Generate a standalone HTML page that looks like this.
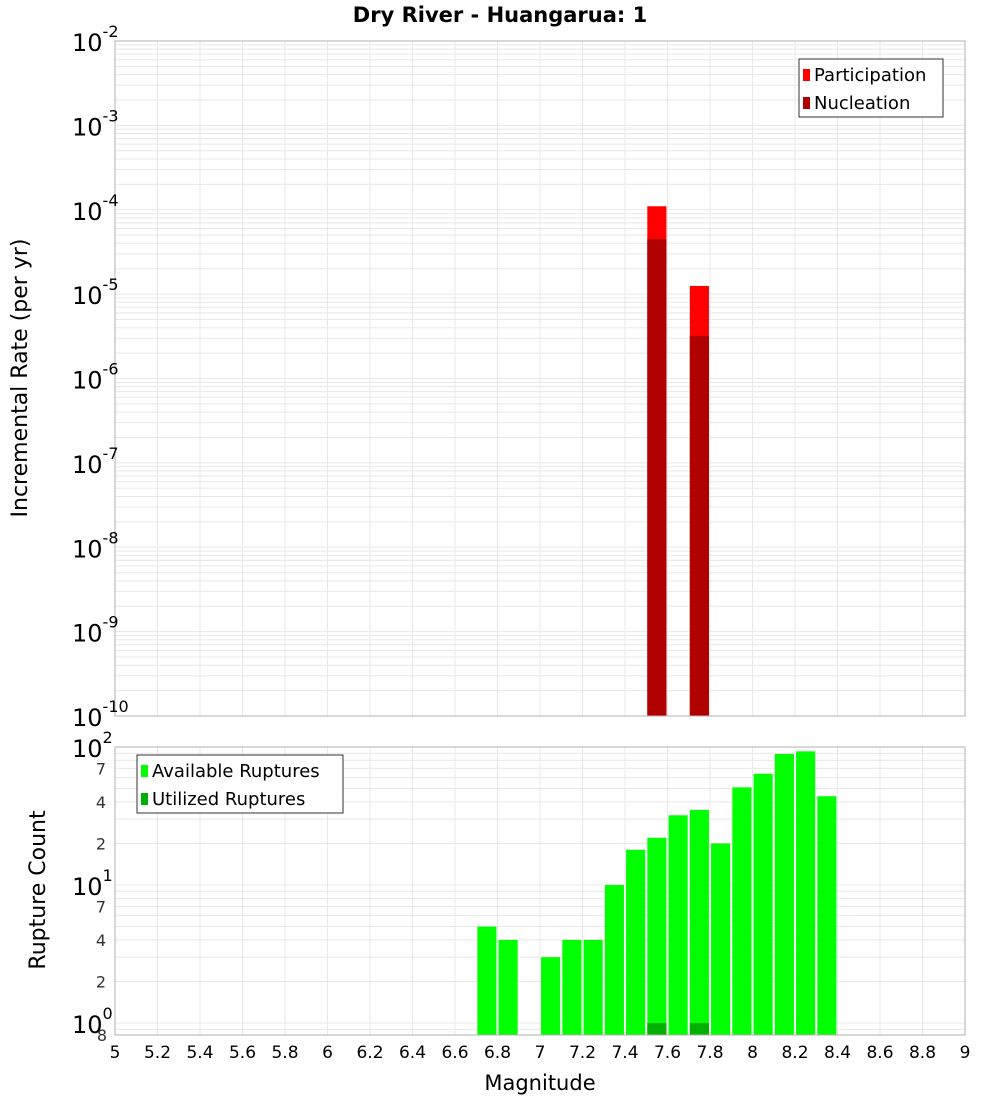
<!DOCTYPE html>
<html><head><meta charset="utf-8"><style>body{margin:0;background:#fff}svg{display:block;font-family:"DejaVu Sans","Liberation Sans",sans-serif}</style></head>
<body>
<svg id="c" width="1000" height="1100" xmlns="http://www.w3.org/2000/svg"></svg>
<script>
const topMags=[7.55,7.75];
const participation=[1.1e-4,1.25e-5];
const nucleation=[4.5e-5,3.2e-6];
const botMags=[6.75,6.85,7.05,7.15,7.25,7.35,7.45,7.55,7.65,7.75,7.85,7.95,8.05,8.15,8.25,8.35];
const available=[5,4,3,4,4,10,18,22,32,35,20,51,64,89,93,44];
const utilMags=[7.55,7.75];
const utilized=[1,1];
const xTicks=[5,5.2,5.4,5.6,5.8,6,6.2,6.4,6.6,6.8,7,7.2,7.4,7.6,7.8,8,8.2,8.4,8.6,8.8,9];
const topExps=[-2,-3,-4,-5,-6,-7,-8,-9,-10];

const svg=document.getElementById('c');const NS='http://www.w3.org/2000/svg';
function el(t,a,txt){const e=document.createElementNS(NS,t);for(const k in a)e.setAttribute(k,a[k]);if(txt!==undefined)e.textContent=txt;svg.appendChild(e);return e;}
const L=115,R=965;
const x=m=>L+(m-5)/4*(R-L);
const T1=41,B1=716;
const y1=v=>T1+(-2-Math.log10(v))/8*(B1-T1);
const T2=747,B2=1035,dec2=138;
const y2=v=>T2+(2-Math.log10(v))*dec2;

// title
let t=el('text',{x:500,y:22,'text-anchor':'middle','font-size':21,'font-weight':'bold'},'Dry River - Huangarua: 1');


// gridlines
for(const m of xTicks){for(const [a,b] of [[T1,B1],[T2,B2]]){const g=el('line',{x1:x(m),x2:x(m),y1:a,y2:b,stroke:'#e8e8e8','stroke-width':1});}}
for(let e=-10;e<-2;e++)for(let k=1;k<10;k++){const yy=y1(k*Math.pow(10,e));const g=el('line',{x1:L,x2:R,y1:yy,y2:yy,stroke:'#e8e8e8','stroke-width':1});}
for(let e=-1;e<2;e++)for(let k=1;k<10;k++){const yy=y2(k*Math.pow(10,e));if(yy>B2||yy<T2)continue;const g=el('line',{x1:L,x2:R,y1:yy,y2:yy,stroke:'#e8e8e8','stroke-width':1});}

const bw=(x(5.1)-x(5))*0.9;
// top bars
topMags.forEach((m,i)=>{let r=el('rect',{x:x(m)-bw/2,y:y1(participation[i]),width:bw,height:B1-y1(participation[i]),fill:'#ff0000'});
 r=el('rect',{x:x(m)-bw/2,y:y1(nucleation[i]),width:bw,height:B1-y1(nucleation[i]),fill:'#b00000'});});
// bottom bars
botMags.forEach((m,i)=>{const r=el('rect',{x:x(m)-bw/2,y:y2(available[i]),width:bw,height:B2-y2(available[i]),fill:'#00ff00'});});
utilMags.forEach((m,i)=>{const r=el('rect',{x:x(m)-bw/2,y:y2(utilized[i]),width:bw,height:B2-y2(utilized[i]),fill:'#00b000'});});

// frames
let f=el('rect',{x:L,y:T1,width:R-L,height:B1-T1,fill:'none',stroke:'#b0b0b0'});
f=el('rect',{x:L,y:T2,width:R-L,height:B2-T2,fill:'none',stroke:'#b0b0b0'});

// top y ticks
for(const e of topExps){const yy=y1(Math.pow(10,e));const g=el('text',{x:72,y:yy+10,'font-size':24});
 g.textContent='10';const s=document.createElementNS(NS,'tspan');s.setAttribute('dy',-14);s.setAttribute('font-size',16);s.textContent=String(e);g.appendChild(s);}
// bottom y ticks
const botTicks=[[100,'10','2'],[70,'7'],[40,'4'],[20,'2'],[10,'10','1'],[7,'7'],[4,'4'],[2,'2'],[1,'10','0']];
for(const [v,a,b] of botTicks){const yy=y2(v);if(b){const g=el('text',{x:72,y:yy+10,'font-size':24},a);const s=document.createElementNS(NS,'tspan');s.setAttribute('dy',-14);s.setAttribute('font-size',16);s.textContent=b;g.appendChild(s);}
 else{const g=el('text',{x:106,y:yy+6,'font-size':16,'text-anchor':'end',fill:'#333'},a);}}
t=el('text',{x:107,y:1041,'font-size':16,'text-anchor':'end',fill:'#333'},'8');
// x ticks
for(const m of xTicks){const g=el('text',{x:x(m),y:1058,'font-size':17,'text-anchor':'middle'},String(m));}
t=el('text',{x:540,y:1090,'font-size':21,'text-anchor':'middle'},'Magnitude');
t=el('text',{x:27,y:378,'font-size':22,'text-anchor':'middle',transform:'rotate(-90 27 378)'},'Incremental Rate (per yr)');
t=el('text',{x:45,y:890,'font-size':22,'text-anchor':'middle',transform:'rotate(-90 45 890)'},'Rupture Count');

// legends
function legend(x0,y0,w,items,name){const r=el('rect',{x:x0,y:y0,width:w,height:58,fill:'#fff',stroke:'#333'});
 items.forEach(([c,l],i)=>{const s=el('rect',{x:x0+4,y:y0+10+i*28,width:7,height:12,fill:c});
 const g=el('text',{x:x0+15,y:y0+22+i*28,'font-size':18},l);});}
legend(799,59,144,[['#ff0000','Participation'],['#b00000','Nucleation']],'top-legend');
legend(137,755,206,[['#00ff00','Available Ruptures'],['#00b000','Utilized Ruptures']],'bottom-legend');
</script>
</body></html>
